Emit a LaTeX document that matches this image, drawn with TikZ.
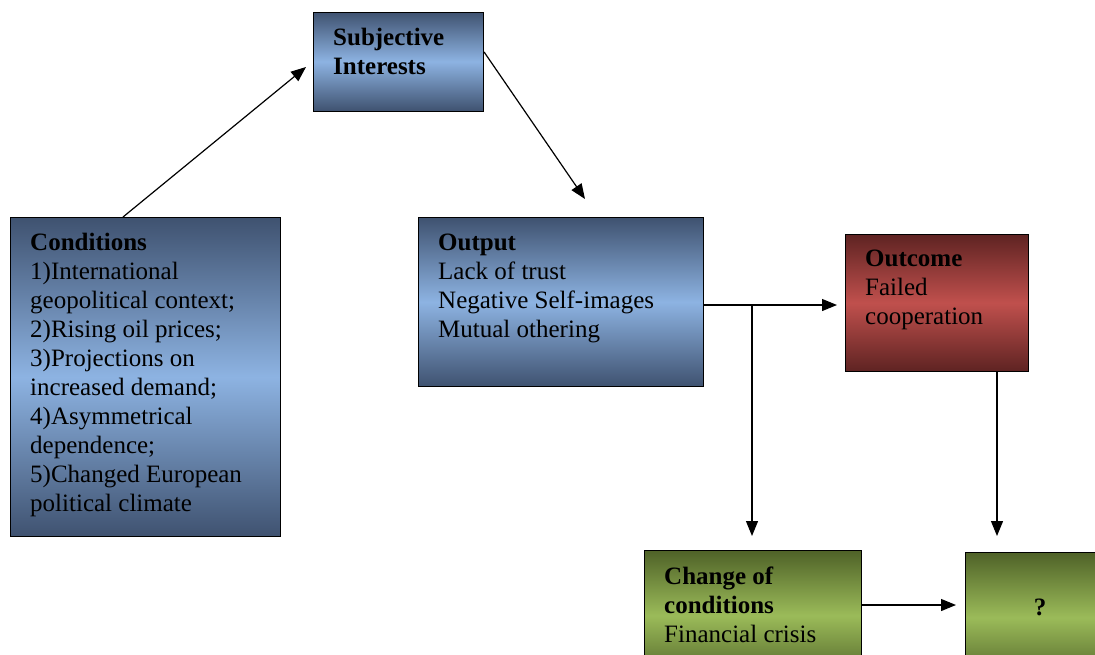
\documentclass[tikz,border=0pt]{standalone}
\usepackage{fontspec}
\setmainfont{Liberation Serif}
\usetikzlibrary{arrows.meta}
\definecolor{blueD}{HTML}{3F5270}
\definecolor{blueL}{HTML}{8DB3E2}
\definecolor{redD}{HTML}{5E2322}
\definecolor{redL}{HTML}{C0504D}
\definecolor{greenD}{HTML}{4F6228}
\definecolor{greenL}{HTML}{9BBB59}
\begin{document}
\begin{tikzpicture}[x=1pt,y=-1pt,
  box/.style={draw=black, line width=1.1pt, rectangle, inner sep=0pt, anchor=north west},
  bluebox/.style={box, top color=blueD, bottom color=blueD, middle color=blueL},
  redbox/.style={box, top color=redD, bottom color=redD, middle color=redL},
  greenbox/.style={box, top color=greenD, bottom color=greenD, middle color=greenL},
  lbl/.style={anchor=base west, inner sep=0pt, align=left, font=\fontsize{25}{29}\selectfont},
  arr/.style={-{Triangle[length=15pt,width=12pt]}, line width=1.2pt}]
\useasboundingbox (0,0) rectangle (1095,654);
\clip (0,0) rectangle (1095,654);
% boxes
\node[bluebox, minimum width=170pt, minimum height=99pt] (subj) at (313,11.5) {};
\node[bluebox, minimum width=270pt, minimum height=319pt] (cond) at (9.5,217) {};
\node[bluebox, minimum width=285pt, minimum height=169pt] (out) at (418,217) {};
\node[redbox, minimum width=183pt, minimum height=137.5pt] (outc) at (845,233.5) {};
\node[greenbox, minimum width=217pt, minimum height=130pt] (chg) at (643.5,550) {};
\node[greenbox, minimum width=150pt, minimum height=130pt] (q) at (965,552) {};
% labels (anchored at the baseline of the last line)
\node[lbl] (subjT) at (333,74) {\textbf{Subjective}\\\textbf{Interests}};
\node[lbl] (condT) at (30,511) {\textbf{Conditions}\\1)International\\geopolitical context;\\2)Rising oil prices;\\3)Projections on\\increased demand;\\4)Asymmetrical\\dependence;\\5)Changed European\\political climate};
\node[lbl] (outT) at (438,337) {\textbf{Output}\\Lack of trust\\Negative Self-images\\Mutual othering};
\node[lbl] (outcT) at (865,324.5) {\textbf{Outcome}\\Failed\\cooperation};
\node[lbl] (chgT) at (664,642) {\textbf{Change of}\\\textbf{conditions}\\Financial crisis};
\node[anchor=base, inner sep=0pt, font=\fontsize{25}{29}\selectfont\bfseries] (qT) at (1040,615) {?};
% connector ends
\coordinate (s3) at (703,305);
\coordinate (t1) at (306,67);
\coordinate (t2) at (585,199);
\coordinate (t3) at (837,305);
\coordinate (br) at (752,305);
\coordinate (t4) at (752,536);
\coordinate (t5) at (997,536);
\coordinate (t6) at (956,605);
% connectors
\draw[arr] ([xshift=113.5pt]cond.north west) -- (t1);
\draw[arr] ([yshift=-40.5pt]subj.north east) -- (t2);
\draw[arr] (s3) -- (t3);
\draw[arr] (br) -- (t4);
\draw[arr] ([xshift=152pt]outc.south west) -- (t5);
\draw[arr] ([yshift=-55pt]chg.north east) -- (t6);
\end{tikzpicture}
\end{document}
